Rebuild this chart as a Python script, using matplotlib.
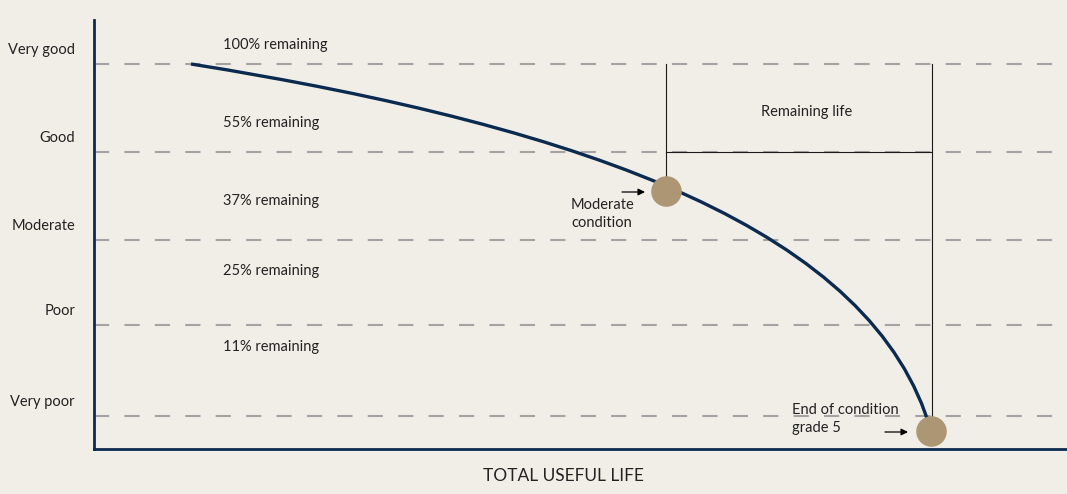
import matplotlib.pyplot as plt
from matplotlib.path import Path
from matplotlib.patches import PathPatch

plt.rcParams['font.family'] = ['Lato', 'DejaVu Sans']

# condition grades (height on the chart) and their labels
grades = ['Very good', 'Good', 'Moderate', 'Poor', 'Very poor']
grade_levels = [385, 297, 209, 124, 33]

remaining = ['100% remaining', '55% remaining', '37% remaining', '25% remaining', '11% remaining']
remaining_y = [404, 326, 248, 178, 102]

# deterioration curve: start, two control points, end (cubic bezier)
curve_life = [97, 497, 780, 837]
curve_cond = [385, 321, 218, 18]

# marked points: moderate condition and end of grade 5
mod_pt = (572, 258)
end_pt = (837, 18)

bg = '#F1EEE8'
navy = '#0B2A4F'
tan = '#AD9673'
txt_c = '#222222'
fs = 10.5

fig = plt.figure(figsize=(10.67, 4.94), dpi=100, facecolor=bg)
ax = fig.add_axes([94 / 1067, 45 / 494, 973 / 1067, 429 / 494], facecolor=bg)
ax.set_xlim(0, 973)
ax.set_ylim(0, 429)

for lvl, name in zip(grade_levels, grades):
    ax.axhline(lvl, color='#A3A3A3', lw=1.5, dashes=(7.3, 7.3), zorder=1)
    ax.annotate(name, (-19, lvl), xytext=(0, 10), textcoords='offset points',
                ha='right', va='center', fontsize=fs, color=txt_c,
                annotation_clip=False)

for txt, y in zip(remaining, remaining_y):
    ax.text(129, y, txt, ha='left', va='center', fontsize=fs, color=txt_c)

# remaining life bracket
ax.plot([mod_pt[0], mod_pt[0]], [mod_pt[1], grade_levels[0]], color='#1a1a1a', lw=0.8, zorder=2)
ax.plot([end_pt[0] + 1, end_pt[0] + 1], [end_pt[1] + 10, grade_levels[0]], color='#1a1a1a', lw=0.8, zorder=2)
ax.plot([mod_pt[0], end_pt[0] + 1], [grade_levels[1], grade_levels[1]], color='#1a1a1a', lw=0.8, zorder=2)
ax.text(713, 337, 'Remaining life', ha='center', va='center', fontsize=fs, color=txt_c)

curve = Path(list(zip(curve_life, curve_cond)),
             [Path.MOVETO, Path.CURVE4, Path.CURVE4, Path.CURVE4])
ax.add_patch(PathPatch(curve, fc='none', ec=navy, lw=2.4, capstyle='butt', zorder=3))
ax.plot(*mod_pt, 'o', ms=22, color=tan, mec='none', zorder=4)
ax.plot(*end_pt, 'o', ms=22, color=tan, mec='none', zorder=4, clip_on=False)

arrow = dict(arrowstyle='-|>', color='black', lw=0.9, mutation_scale=10, shrinkA=0, shrinkB=0)
ax.annotate('', xy=(551, 257), xytext=(528, 257), arrowprops=arrow)
ax.text(477, 235, 'Moderate\ncondition', ha='left', va='center', fontsize=fs,
        color=txt_c, linespacing=1.3)

ax.annotate('', xy=(814, 17), xytext=(791, 17), arrowprops=arrow)
ax.text(698, 30, 'End of condition\ngrade 5', ha='left', va='center', fontsize=fs,
        color=txt_c, linespacing=1.3)

for s in ['top', 'right']:
    ax.spines[s].set_visible(False)
for s in ['left', 'bottom']:
    ax.spines[s].set_color(navy)
    ax.spines[s].set_linewidth(2)
ax.set_xticks([])
ax.set_yticks([])

fig.text(563 / 1067, 1 - 476 / 494, 'TOTAL USEFUL LIFE', ha='center', va='center',
         fontsize=12.5, color=txt_c)

fig.savefig('out.png', dpi=100, facecolor=bg)
